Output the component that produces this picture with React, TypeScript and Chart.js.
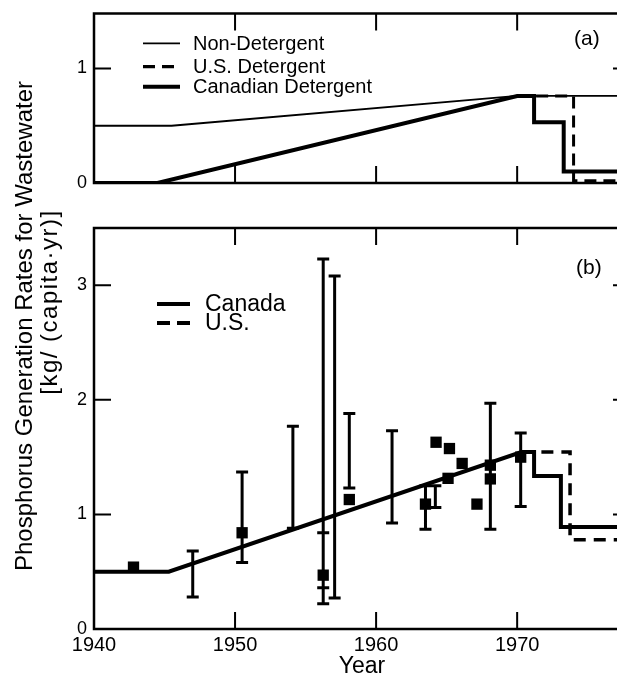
import React, { useEffect, useRef } from "react";
import { Chart, registerables } from "chart.js";

Chart.register(...registerables);

const FONT = "'Liberation Sans', Arial, Helvetica, sans-serif";

// ---------- Panel (a) ----------
const nonDetYears = [1940, 1945.5, 1970, 1978];
const nonDetValues = [0.5, 0.5, 0.76, 0.76];
const canDetYears = [1940, 1944.5, 1970, 1971.2, 1971.2, 1973.3, 1973.3, 1978];
const canDetValues = [0, 0, 0.76, 0.76, 0.53, 0.53, 0.1, 0.1];
const usDetYears = [1970, 1974, 1974, 1978];
const usDetValues = [0.76, 0.76, 0.02, 0.02];
const legendA = ["Non-Detergent", "U.S. Detergent", "Canadian Detergent"];

// ---------- Panel (b) ----------
const canadaYears = [1940, 1945.3, 1970.3, 1971.2, 1971.2, 1973.1, 1973.1, 1978];
const canadaValues = [0.5, 0.5, 1.545, 1.545, 1.335, 1.335, 0.89, 0.89];
const usYears = [1970.3, 1973.75, 1973.75, 1978];
const usValues = [1.545, 1.545, 0.78, 0.78];
const obsYears = [1942.8, 1950.5, 1956.25, 1958.1, 1963.5, 1964.25, 1965.2, 1966.1, 1965.1, 1967.15, 1968.1, 1968.1, 1970.25];
const obsValues = [0.54, 0.84, 0.47, 1.13, 1.09, 1.63, 1.575, 1.445, 1.315, 1.09, 1.43, 1.31, 1.5];
const barYears = [1947.0, 1950.5, 1954.1, 1956.25, 1956.25, 1957.06, 1958.1, 1961.13, 1963.5, 1964.2, 1968.1, 1970.25];
const barLows = [0.28, 0.58, 0.88, 0.36, 0.22, 0.27, 1.23, 0.925, 0.87, 1.06, 0.87, 1.07];
const barHighs = [0.68, 1.37, 1.77, 3.23, 0.84, 3.08, 1.88, 1.73, 1.25, 1.25, 1.97, 1.71];
const legendB = ["Canada", "U.S."];

// ---------- Axes ----------
const xMin = 1940;
const xMax = 1978;
const xInnerTicks = [1950, 1960, 1970];
const yMaxA = 1.48;
const yTicksA = [1];
const yMaxB = 3.5;
const yTicksB = [1, 2, 3];
const yTitle1 = "Phosphorus Generation Rates for Wastewater";
const yTitle2 = "[kg/ (capita·yr)]";
const xTitle = "Year";

const pts = (xs: number[], ys: number[]) => xs.map((x, i) => ({ x, y: ys[i] }));

const framePlugin = (xt: number[], yt: number[]) => ({
  id: "frame",
  afterDatasetsDraw(chart: any) {
    const { ctx, chartArea: a, scales } = chart;
    const x = scales.x;
    const y = scales.y;
    ctx.save();
    ctx.strokeStyle = "#000";
    ctx.lineWidth = 2.5;
    ctx.strokeRect(a.left, a.top, a.right - a.left, a.bottom - a.top);
    ctx.lineWidth = 2;
    ctx.beginPath();
    const L = 17;
    for (const v of xt) {
      const px = x.getPixelForValue(v);
      ctx.moveTo(px, a.bottom);
      ctx.lineTo(px, a.bottom - L);
      ctx.moveTo(px, a.top);
      ctx.lineTo(px, a.top + L);
    }
    for (const v of yt) {
      const py = y.getPixelForValue(v);
      ctx.moveTo(a.left, py);
      ctx.lineTo(a.left + L, py);
      ctx.moveTo(a.right, py);
      ctx.lineTo(a.right - L, py);
    }
    ctx.stroke();
    ctx.restore();
  },
});

const errorBarPlugin = {
  id: "errorBars",
  afterDatasetsDraw(chart: any) {
    const { ctx, scales } = chart;
    const x = scales.x;
    const y = scales.y;
    ctx.save();
    ctx.strokeStyle = "#000";
    ctx.lineWidth = 3;
    ctx.beginPath();
    const c = 6;
    barYears.forEach((yr, i) => {
      const px = x.getPixelForValue(yr);
      const lo = y.getPixelForValue(barLows[i]);
      const hi = y.getPixelForValue(barHighs[i]);
      ctx.moveTo(px, lo);
      ctx.lineTo(px, hi);
      ctx.moveTo(px - c, lo);
      ctx.lineTo(px + c, lo);
      ctx.moveTo(px - c, hi);
      ctx.lineTo(px + c, hi);
    });
    ctx.stroke();
    ctx.restore();
  },
};

type LegendRow = { label: string; y: number; width: number; dash: number[] };

const legendPlugin = (rows: LegendRow[], x0: number, x1: number, tx: number, size: number, tag: string, tagX: number, tagY: number) => ({
  id: "legendCustom",
  afterDraw(chart: any) {
    const { ctx } = chart;
    ctx.save();
    ctx.strokeStyle = "#000";
    ctx.fillStyle = "#000";
    ctx.textBaseline = "middle";
    ctx.textAlign = "left";
    ctx.font = `${size}px ${FONT}`;
    for (const r of rows) {
      ctx.lineWidth = r.width;
      ctx.setLineDash(r.dash);
      ctx.beginPath();
      ctx.moveTo(x0, r.y);
      ctx.lineTo(x1, r.y);
      ctx.stroke();
      ctx.fillText(r.label, tx, r.y + 1);
    }
    ctx.setLineDash([]);
    ctx.font = `21px ${FONT}`;
    ctx.fillText(tag, tagX, tagY);
    ctx.restore();
  },
});

const yTitlePlugin = {
  id: "yTitle",
  afterDraw(chart: any) {
    const { ctx } = chart;
    ctx.save();
    ctx.fillStyle = "#000";
    ctx.font = `24px ${FONT}`;
    ctx.textAlign = "center";
    ctx.textBaseline = "alphabetic";
    ctx.translate(24, 318);
    ctx.rotate(-Math.PI / 2);
    ctx.fillText(yTitle1, 0, 0);
    ctx.restore();
    ctx.save();
    ctx.fillStyle = "#000";
    ctx.font = `24px ${FONT}`;
    (ctx as any).letterSpacing = "1.5px";
    ctx.textAlign = "center";
    ctx.textBaseline = "alphabetic";
    ctx.translate(49, 294);
    ctx.rotate(-Math.PI / 2);
    ctx.fillText(yTitle2, 0, 0);
    ctx.restore();
  },
};

const lineDs = (data: any[], width: number, dash: number[] = []) => ({
  data,
  showLine: true,
  borderColor: "#000",
  backgroundColor: "#000",
  borderWidth: width,
  borderDash: dash,
  borderJoinStyle: "miter",
  borderCapStyle: "butt",
  pointRadius: 0,
  fill: false,
  tension: 0,
});

const fixY = (s: any) => {
  s.width = 86;
  s.paddingTop = 0;
  s.paddingBottom = 0;
};

export default function App() {
  const topRef = useRef<HTMLCanvasElement>(null);
  const botRef = useRef<HTMLCanvasElement>(null);

  useEffect(() => {
    Chart.defaults.font.family = FONT;
    Chart.defaults.color = "#000";

    const top = new Chart(topRef.current!, {
      type: "scatter",
      data: {
        datasets: [
          lineDs(pts(nonDetYears, nonDetValues), 1.8) as any,
          lineDs(pts(canDetYears, canDetValues), 4) as any,
          lineDs(pts(usDetYears, usDetValues), 3, [12, 7]) as any,
        ],
      },
      options: {
        animation: false,
        responsive: false,
        events: [],
        layout: { padding: { top: 5.5, right: 18, bottom: 15, left: 0 } },
        plugins: { legend: { display: false }, tooltip: { enabled: false } },
        scales: {
          x: { type: "linear", min: xMin, max: xMax, display: false },
          y: {
            min: 0,
            max: yMaxA,
            afterFit: fixY,
            grid: { display: false, drawTicks: false },
            border: { display: false },
            ticks: { stepSize: 1, includeBounds: false, padding: 7, color: "#000", font: { family: FONT, size: 18 } },
          },
        },
      },
      plugins: [
        framePlugin(xInnerTicks, yTicksA),
        legendPlugin(
          [
            { label: legendA[0], y: 35.3, width: 1.8, dash: [] },
            { label: legendA[1], y: 58.7, width: 3.2, dash: [12, 7] },
            { label: legendA[2], y: 78.7, width: 4, dash: [] },
          ],
          135, 172, 185, 20, "(a)", 566, 31
        ),
      ],
    });

    const bot = new Chart(botRef.current!, {
      type: "scatter",
      data: {
        datasets: [
          lineDs(pts(canadaYears, canadaValues), 4) as any,
          lineDs(pts(usYears, usValues), 3.5, [12, 8]) as any,
          {
            data: pts(obsYears, obsValues),
            showLine: false,
            pointStyle: "rect",
            pointRadius: 8,
            backgroundColor: "#000",
            borderColor: "#000",
            borderWidth: 0,
          } as any,
        ],
      },
      options: {
        animation: false,
        responsive: false,
        events: [],
        layout: { padding: { top: 220, right: 18, bottom: 0, left: 0 } },
        plugins: { legend: { display: false }, tooltip: { enabled: false } },
        scales: {
          x: {
            type: "linear",
            min: xMin,
            max: xMax,
            afterFit: (s: any) => { s.height = 49; },
            grid: { display: false, drawTicks: false },
            border: { display: false },
            ticks: {
              stepSize: 10,
              includeBounds: false,
              autoSkip: false,
              maxRotation: 0,
              padding: 4,
              color: "#000",
              font: { family: FONT, size: 20 },
              callback: (v: any) => String(v),
            },
            title: { display: true, text: xTitle, color: "#000", font: { family: FONT, size: 23, lineHeight: 1 }, padding: 0 },
          },
          y: {
            min: 0,
            max: yMaxB,
            afterFit: fixY,
            grid: { display: false, drawTicks: false },
            border: { display: false },
            ticks: { stepSize: 1, includeBounds: false, padding: 7, color: "#000", font: { family: FONT, size: 18 } },
          },
        },
      },
      plugins: [
        errorBarPlugin,
        framePlugin(xInnerTicks, yTicksB),
        legendPlugin(
          [
            { label: legendB[0], y: 296, width: 4, dash: [] },
            { label: legendB[1], y: 315, width: 4, dash: [13, 7] },
          ],
          149, 182, 197, 23, "(b)", 568, 260
        ),
        yTitlePlugin,
      ],
    });

    return () => {
      top.destroy();
      bot.destroy();
    };
  }, []);

  return (
    <div style={{ position: "relative", width: 617, height: 670, overflow: "hidden" }}>
      <canvas ref={botRef} width={640} height={670} style={{ position: "absolute", left: 0, top: 0 }} />
      <canvas ref={topRef} width={640} height={190} style={{ position: "absolute", left: 0, top: 0 }} />
    </div>
  );
}
